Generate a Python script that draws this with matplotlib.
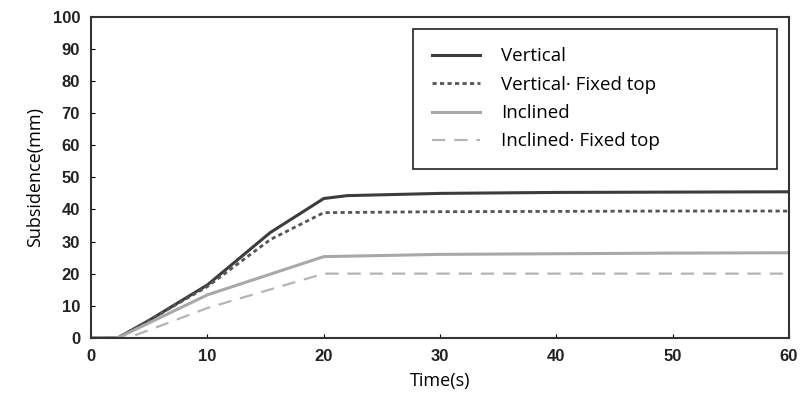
import matplotlib.pyplot as plt

plt.rcParams['font.family'] = ['Liberation Sans Narrow', 'Liberation Sans', 'DejaVu Sans']

# data
t_v = [0, 2.3, 5, 10, 15.4, 20, 22, 30, 40, 50, 60]
vertical = [0, 0, 5.5, 16.5, 32.8, 43.4, 44.3, 45.0, 45.3, 45.4, 45.5]

t_vf = [0, 2.3, 5, 10, 15.4, 20, 30, 40, 50, 60]
vertical_fixed = [0, 0, 5.5, 16.0, 30.6, 39.0, 39.3, 39.4, 39.5, 39.5]

t_i = [0, 2.3, 10, 20, 30, 40, 50, 60]
inclined = [0, 0, 13.4, 25.3, 26.0, 26.2, 26.4, 26.5]

t_if = [0, 3.2, 10, 20, 30, 40, 50, 60]
inclined_fixed = [0, 0, 9.3, 20.0, 20.0, 20.0, 20.0, 20.0]

labels = ['Vertical', 'Vertical\u00b7 Fixed top', 'Inclined', 'Inclined\u00b7 Fixed top']

fig = plt.figure(figsize=(8, 4.11), dpi=100)
ax = fig.add_axes([0.114, 0.178, 0.872, 0.781])

ax.plot(t_v, vertical, color='#3c3c3c', lw=2.2, label=labels[0])
ax.plot(t_vf, vertical_fixed, color='#555555', lw=2.0, ls=(0, (1.5, 1.2)), label=labels[1])
ax.plot(t_i, inclined, color='#a8a8a8', lw=2.2, label=labels[2])
ax.plot(t_if, inclined_fixed, color='#b4b4b4', lw=1.6, ls=(0, (6, 4)), label=labels[3])

ax.set_xlim(0, 60)
ax.set_ylim(0, 100)
ax.set_xticks(range(0, 61, 10))
ax.set_yticks(range(0, 101, 10))
ax.tick_params(direction='in', length=3, width=0.8, labelsize=12, pad=8)
for lab in ax.get_xticklabels() + ax.get_yticklabels():
    lab.set_fontweight('bold')
    lab.set_color('#222222')
for s in ax.spines.values():
    s.set_linewidth(1.5)
    s.set_color('#333333')

ax.set_xlabel('Time(s)', fontsize=13, family=['Open Sans', 'DejaVu Sans'], labelpad=6)
ax.set_ylabel('Subsidence(mm)', fontsize=13, family=['Open Sans', 'DejaVu Sans'], labelpad=6)

leg = ax.legend(loc='upper left', bbox_to_anchor=(0.461, 0.963, 0.522, 0.0),
                mode='expand', frameon=True, fancybox=False, framealpha=1,
                edgecolor='#222222', handlelength=2.6, handletextpad=1.1,
                borderpad=1.0, labelspacing=0.55, borderaxespad=0,
                prop={'family': ['Open Sans', 'DejaVu Sans'], 'size': 13.5})
leg.get_frame().set_linewidth(1.2)

plt.savefig('out.png', dpi=100)
